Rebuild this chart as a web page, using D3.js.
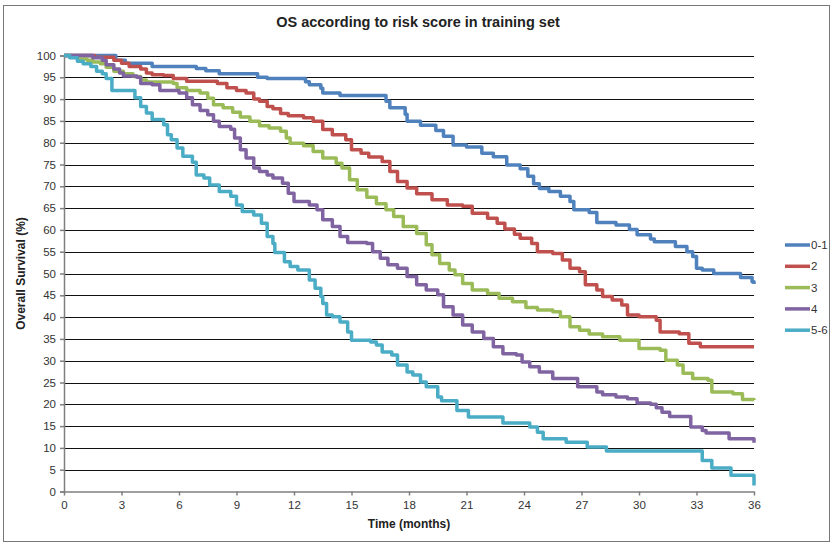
<!DOCTYPE html>
<html>
<head>
<meta charset="utf-8">
<script src="https://cdn.jsdelivr.net/npm/d3@7"></script>
<style>
  body { margin: 0; background: #fff; }
  text { font-family: "Liberation Sans", Arial, sans-serif; }
</style>
</head>
<body>
<div id="chart"></div>
<script>
// risk score groups, Excel 2007 palette
let groups = ["0-1", "2", "3", "4", "5-6"],
    colors = ["#4F81BD", "#C0504D", "#9BBB59", "#8064A2", "#4BACC6"];

// [month, survival %] step points
let s01 = [[0,100],[2.7,98.9],[3.2,98.2],[4.6,97.5],[6.9,97],[7.4,96.5],[8.1,95.8],[10.1,95.0],[10.6,94.7],
  [12.6,94.0],[12.8,93.3],[13.4,92.5],[13.5,91.4],[14.4,90.8],[16.8,89.5],[17.0,88.0],[17.8,86.5],[17.9,84.9],
  [18.6,84.0],[19.4,82.8],[19.8,81.5],[20.3,79.5],[21.0,79.0],[21.8,77.6],[22.4,76.8],[23.1,74.9],[23.8,74.0],
  [24.2,72.3],[24.5,70.6],[24.8,69.5],[25.3,68.8],[25.9,67.7],[26.4,66.5],[26.6,64.6],[27.4,64.0],[27.8,61.7],
  [28.8,61.1],[29.5,60.1],[29.9,58.9],[30.6,57.9],[30.8,57.3],[31.9,56.2],[32.5,55.0],[32.8,53.9],[33.0,51.2],
  [33.3,50.8],[33.9,50.0],[35.3,49.1],[35.9,48.1],[36,47.6]];
let s2 = [[0,100],[1.6,99.6],[2.6,98.9],[3.0,98.2],[3.4,97.5],[4.0,96.9],[4.3,96.0],[4.6,95.6],[5.2,95.4],
  [5.7,94.7],[6.4,94.1],[8.0,93.6],[8.5,92.6],[9.0,92.0],[9.5,91.4],[9.9,90.0],[10.2,89.5],[10.6,88.3],
  [10.9,87.8],[11.3,86.7],[11.7,86.2],[12.5,85.7],[13.0,84.9],[13.5,83.0],[14.0,81.8],[14.7,80.7],[15.0,78.4],
  [15.5,77.6],[15.9,76.7],[16.6,75.7],[17.0,73.4],[17.4,71.1],[17.9,69.6],[18.4,68.3],[19.2,66.9],[20.0,65.7],
  [20.8,65.4],[21.3,63.8],[22.1,62.7],[22.6,61.5],[23.0,60.2],[23.5,59.0],[23.8,58.1],[24.4,56.9],[24.7,55.0],
  [25.5,54.6],[26.0,53.1],[26.4,51.2],[26.9,50.4],[27.2,47.4],[27.8,46.2],[28.1,44.7],[28.6,43.9],[29.1,42.8],
  [29.4,40.5],[30.0,40.1],[30.9,39.3],[31.1,36.6],[32.1,36.2],[32.6,34.0],[33.2,33.2],[36,33.2]];
let s3 = [[0,100],[0.4,99.6],[0.7,99.2],[1.2,98.9],[1.5,98.5],[1.9,98.1],[2.2,97.3],[2.6,96.4],[3.1,95.8],
  [3.6,95.2],[4.0,94.4],[4.3,93.9],[5.7,93.6],[5.9,92.6],[6.4,92.0],[7.1,91.4],[7.5,90.2],[7.8,88.7],[8.3,88.0],
  [8.8,87.0],[9.2,85.9],[9.7,84.9],[10.2,83.9],[10.7,83.4],[11.3,82.6],[11.6,81.1],[11.8,79.9],[12.5,79.3],
  [13.0,78.0],[13.5,76.5],[14.2,75.3],[14.5,74.2],[14.9,71.5],[15.3,69.2],[15.8,67.5],[16.3,66.0],[16.8,64.6],
  [17.2,63.1],[17.7,60.8],[18.4,59.2],[18.9,56.6],[19.2,54.3],[19.6,52.3],[20.1,50.8],[20.4,49.7],[20.8,47.7],
  [21.3,46.2],[22.1,45.4],[22.7,44.3],[23.4,43.5],[24.1,42.2],[24.7,41.6],[25.5,41.2],[25.9,40.1],[26.4,37.8],
  [26.9,37.0],[27.4,36.1],[28.1,35.5],[29.0,34.7],[30.0,32.8],[31.1,32.4],[31.4,30.1],[32.0,29.0],[32.3,27.1],
  [32.8,25.9],[33.6,25.5],[33.8,22.8],[34.9,22.4],[35.4,21.1],[36,21]];
let s4 = [[0,100],[1.5,99.5],[2.0,98.9],[2.2,97.9],[2.6,96.9],[2.9,96.0],[3.1,95.3],[3.8,95.0],[4.0,93.6],
  [4.6,93.3],[5.0,92.0],[6.0,91.4],[6.4,90.3],[6.7,88.7],[7.1,87.4],[7.5,86.4],[7.8,84.9],[8.1,83.7],[8.7,83.1],
  [8.9,81.1],[9.2,78.4],[9.5,76.5],[9.9,74.2],[10.2,73.4],[10.6,72.6],[10.9,71.9],[11.4,70.7],[11.7,68.4],
  [12.0,66.5],[12.8,65.7],[13.2,64.6],[13.5,62.3],[14.0,60.8],[14.4,58.5],[14.8,57.1],[15.8,56.9],[16.1,55.0],
  [16.5,53.5],[16.9,52.0],[17.4,51.2],[17.9,49.3],[18.4,47.4],[18.9,46.2],[19.5,45.1],[19.8,42.4],[20.3,40.5],
  [20.8,38.2],[21.3,36.6],[21.9,35.1],[22.4,33.2],[22.9,31.6],[23.6,31.3],[23.9,29.7],[24.3,28.6],[24.8,27.4],
  [25.5,25.9],[26.8,24.0],[27.8,22.8],[28.1,22.2],[28.8,21.7],[29.4,21.3],[29.9,20.3],[30.6,20.0],[30.9,19.2],
  [31.2,18.2],[31.6,17.2],[32.7,14.8],[33.3,14.0],[33.5,13.4],[34.7,12.1],[36,11.2]];
let s56 = [[0,100],[0.3,99.5],[0.7,98.7],[1.0,98.1],[1.4,97.5],[1.7,96.4],[2.0,95.8],[2.2,94.7],[2.5,92.0],
  [3.7,90.3],[4.0,88.3],[4.3,86.8],[4.6,85.3],[5.2,84.1],[5.4,81.8],[5.6,80.7],[5.9,78.8],[6.2,76.9],[6.7,75.5],
  [6.9,72.6],[7.3,71.9],[7.6,70.3],[8.1,68.8],[8.7,67.7],[9.0,65.7],[9.3,64.2],[9.9,63.4],[10.3,61.5],[10.6,58.5],
  [10.9,56.9],[11.0,54.8],[11.5,52.7],[11.8,51.6],[12.2,50.8],[12.8,48.5],[13.1,46.6],[13.4,44.7],[13.5,43.1],
  [13.7,40.5],[14.0,40.1],[14.4,38.9],[14.8,36.6],[15.0,34.7],[16.0,34.3],[16.3,33.6],[16.6,32.0],[17.1,31.3],
  [17.4,29.0],[17.9,27.4],[18.2,26.7],[18.6,25.1],[18.9,24.0],[19.5,21.7],[19.7,20.8],[20.5,18.6],[21.1,17.1],
  [22.9,15.7],[24.3,14.8],[24.7,13.6],[25.0,12.1],[26.2,11.3],[27.3,10.2],[28.3,9.3],[33.3,7.1],[33.8,5.4],
  [34.8,3.7],[36,1.4]];

let xTicks = d3.range(0, 37, 3),
    yTicks = d3.range(0, 101, 5);

let width = 832, height = 543,
    margin = ({top: 55.5, right: 78, bottom: 51.5, left: 64});

let series = [s01, s2, s3, s4, s56];

let x = d3.scaleLinear().domain([0, 36]).range([margin.left, width - margin.right]);
let y = d3.scaleLinear().domain([0, 100]).range([height - margin.bottom, margin.top]);

let svg = d3.select("#chart").append("svg")
    .attr("width", width)
    .attr("height", height);

// chart frame
svg.append("rect")
    .attr("x", 3.5).attr("y", 5.5)
    .attr("width", 826).attr("height", 536)
    .attr("fill", "#fff")
    .attr("stroke", "#777");

svg.append("text")
    .attr("x", 418).attr("y", 27)
    .attr("text-anchor", "middle")
    .attr("font-size", 14.5)
    .attr("font-weight", "bold")
    .attr("fill", "#222")
    .text("OS according to risk score in training set");

// gridlines
svg.append("g")
    .selectAll("line")
    .data(yTicks.filter(d => d > 0))
    .join("line")
        .attr("x1", x(0)).attr("x2", x(36))
        .attr("y1", d => Math.round(y(d)) + 0.5)
        .attr("y2", d => Math.round(y(d)) + 0.5)
        .attr("stroke", "#111")
        .attr("stroke-width", 1.2);

let yAxis = g => g
    .attr("transform", `translate(${x(0)},0)`)
    .call(d3.axisLeft(y).tickValues(yTicks).tickSize(4).tickPadding(4))
    .call(g => g.selectAll(".domain, line").attr("stroke", "#7f7f7f").attr("stroke-width", 1.5))
    .call(g => g.selectAll("text").attr("font-size", 11.5).attr("fill", "#333")
        .attr("font-family", "Liberation Sans, Arial, sans-serif"));

let xAxis = g => g
    .attr("transform", `translate(0,${y(0)})`)
    .call(d3.axisBottom(x).tickValues(xTicks).tickSize(4).tickPadding(5).tickSizeOuter(0))
    .call(g => g.selectAll(".domain, line").attr("stroke", "#7f7f7f").attr("stroke-width", 1.5))
    .call(g => g.selectAll("text").attr("font-size", 11.5).attr("fill", "#333")
        .attr("font-family", "Liberation Sans, Arial, sans-serif"));

svg.append("g").call(yAxis);
svg.append("g").call(xAxis);

let line = d3.line()
    .x(d => x(d[0]))
    .y(d => y(d[1]))
    .curve(d3.curveStepAfter);

svg.append("g")
    .selectAll("path")
    .data(series)
    .join("path")
        .attr("d", line)
        .attr("fill", "none")
        .attr("stroke", (d, i) => colors[i])
        .attr("stroke-width", 3.5)
        .attr("stroke-linejoin", "round");

svg.append("text")
    .attr("x", (x(0) + x(36)) / 2).attr("y", 528)
    .attr("text-anchor", "middle")
    .attr("font-size", 12)
    .attr("font-weight", "bold")
    .attr("fill", "#222")
    .text("Time (months)");

svg.append("text")
    .attr("transform", `translate(25,${(y(0) + y(100)) / 2}) rotate(-90)`)
    .attr("text-anchor", "middle")
    .attr("font-size", 12)
    .attr("font-weight", "bold")
    .attr("fill", "#222")
    .text("Overall Survival (%)");

// legend
let legend = svg.append("g")
    .selectAll("g")
    .data(groups)
    .join("g")
        .attr("transform", (d, i) => `translate(785,${245 + i * 21.3})`);
legend.append("line")
    .attr("x1", 0).attr("x2", 25)
    .attr("stroke", (d, i) => colors[i])
    .attr("stroke-width", 3.5);
legend.append("text")
    .attr("x", 26).attr("dy", "0.35em")
    .attr("font-size", 11.5)
    .attr("fill", "#333")
    .text(d => d);
</script>
</body>
</html>
